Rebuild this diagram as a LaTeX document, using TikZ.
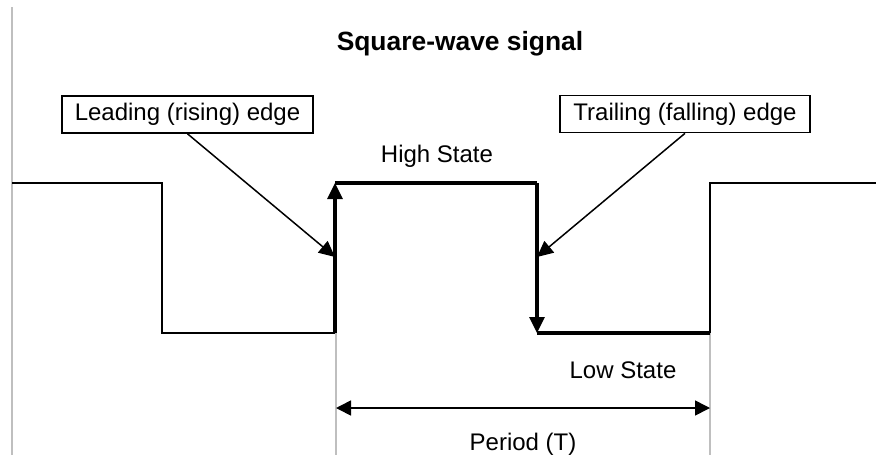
\documentclass[tikz,border=0pt]{standalone}
\usepackage{fontspec}
\setmainfont{Liberation Sans}
\usetikzlibrary{arrows.meta}
\begin{document}
\begin{tikzpicture}[x=0.5pt,y=-0.5pt,
  thinw/.style={line width=1pt, black},
  thickw/.style={line width=1.6pt, black},
  guide/.style={line width=0.6pt, black!25},
  tip/.style={-{Triangle[length=8pt,width=7.5pt]}},
  labelbox/.style={draw, line width=0.8pt, inner sep=0pt, minimum height=18.5pt, font=\fontsize{12}{14}\selectfont},
  lbl/.style={font=\fontsize{12}{14}\selectfont, anchor=base, inner sep=0pt}]
\useasboundingbox (0,0) rectangle (876,455);
% guides
\coordinate (g0t) at (12,7); \coordinate (g0b) at (12,455);
\draw[guide] (g0t) -- (g0b);
\coordinate (g1t) at (336,333); \coordinate (g1b) at (336,455);
\coordinate (g2t) at (710,333); \coordinate (g2b) at (710,455);
\draw[guide] (g1t) -- (g1b);
\draw[guide] (g2t) -- (g2b);
% waveform coordinates
\coordinate (w0) at (12,183);
\coordinate (w1) at (162,183);
\coordinate (w2) at (162,333);
\coordinate (w3) at (335,333);
\coordinate (w4) at (335,183);
\coordinate (w5) at (537,183);
\coordinate (w6) at (537,333);
\coordinate (w7) at (710,333);
\coordinate (w8) at (710,183);
\coordinate (w9) at (876,183);
\draw[thinw] (w0) -- (w1) -- (w2) -- (w3);
\draw[thickw, tip] (w3) -- (w4);
\draw[thickw] (w4) -- (w5);
\draw[thickw, tip] (w5) -- (w6);
\draw[thickw] (w6) -- (w7);
\draw[thinw] (w7) -- (w8) -- (w9);
% period
\coordinate (p0) at (336,408); \coordinate (p1) at (710,408);
\draw[line width=0.8pt, {Triangle[length=7.5pt,width=7.5pt]}-{Triangle[length=7.5pt,width=7.5pt]}] (p0) -- (p1);
% texts
\node[lbl, font=\fontsize{13.2}{16}\selectfont\bfseries] (title) at (460,50) {Square-wave signal};
\node[lbl] (high) at (437,162) {High State};
\node[lbl] (low) at (623,378) {Low State};
\node[lbl] (period) at (523,450) {Period (T)};
% boxes
\node[labelbox, minimum width=125.5pt] (lead) at (187.5,114.5) {Leading (rising) edge};
\node[labelbox, minimum width=125pt] (trail) at (685,114) {Trailing (falling) edge};
\coordinate (tl) at (335,257);
\coordinate (tt) at (537,257);
\draw[line width=0.75pt, tip] (lead.south) -- (tl);
\draw[line width=0.75pt, tip] (trail.south) -- (tt);
\end{tikzpicture}
\end{document}
